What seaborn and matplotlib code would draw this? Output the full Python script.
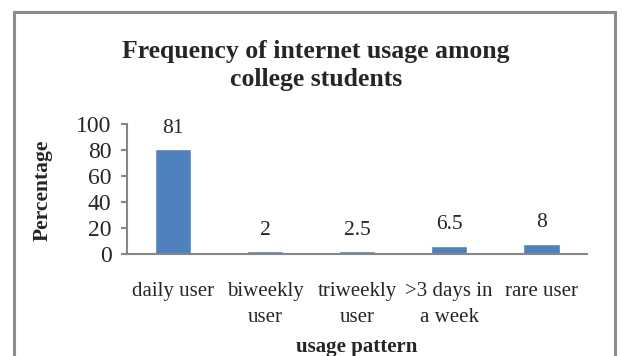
import matplotlib
matplotlib.use("Agg")
import matplotlib.pyplot as plt
from matplotlib.patches import Rectangle
import seaborn as sns
import pandas as pd

categories = ["daily user", "biweekly\nuser", "triweekly\nuser", ">3 days in\na week", "rare user"]
percentages = [81, 2, 2.5, 6.5, 8]
value_labels = ["81", "2", "2.5", "6.5", "8"]
y_ticks = [0, 20, 40, 60, 80, 100]

sns.set_theme(style="white")
plt.rcParams["font.family"] = ["Liberation Serif", "DejaVu Serif"]

df = pd.DataFrame({"pattern": categories, "pct": percentages})

fig = plt.figure(figsize=(6.22, 3.56), dpi=100)
ax = fig.add_axes([0.204, 0.2865, 0.74, 0.3652])

sns.barplot(data=df, x="pattern", y="pct", color="#4F81BD", saturation=1,
            width=0.4, ax=ax)

ax.set_ylim(0, 100)
ax.set_yticks(y_ticks)
ax.set_xlim(-0.5, len(categories) - 0.5)

grey = "#868686"
for side in ["top", "right"]:
    ax.spines[side].set_visible(False)
for side in ["left", "bottom"]:
    ax.spines[side].set_color(grey)
    ax.spines[side].set_linewidth(1.5)

ax.tick_params(axis="y", direction="out", length=4.5, width=1.5, color=grey,
               pad=6.5, labelsize=17, left=True)
ax.tick_params(axis="x", length=0, pad=20, labelsize=15)
for lbl in ax.get_xticklabels():
    lbl.set_linespacing(1.5)

ax.set_ylabel("Percentage", fontsize=15.5, fontweight="bold")
ax.set_xlabel("usage pattern", fontsize=15, fontweight="bold")
ax.yaxis.set_label_coords(-0.161, 0.49)
ax.xaxis.set_label_coords(0.5, -0.64)

for i, (v, txt) in enumerate(zip(percentages, value_labels)):
    ax.annotate(txt, xy=(i, v), xytext=(0, 8), textcoords="offset points",
                ha="center", va="bottom", fontsize=15.5)

fig.text(0.508, 0.817, "Frequency of internet usage among\ncollege students",
         ha="center", va="center", fontsize=18.5, fontweight="bold",
         linespacing=1.28)

# chart frame
fig.patches.append(Rectangle((0.023, -0.1), 0.965, 1.066, transform=fig.transFigure,
                             fill=False, edgecolor="#8c8c8c", linewidth=2.2))

fig.savefig("out.png", dpi=100)
